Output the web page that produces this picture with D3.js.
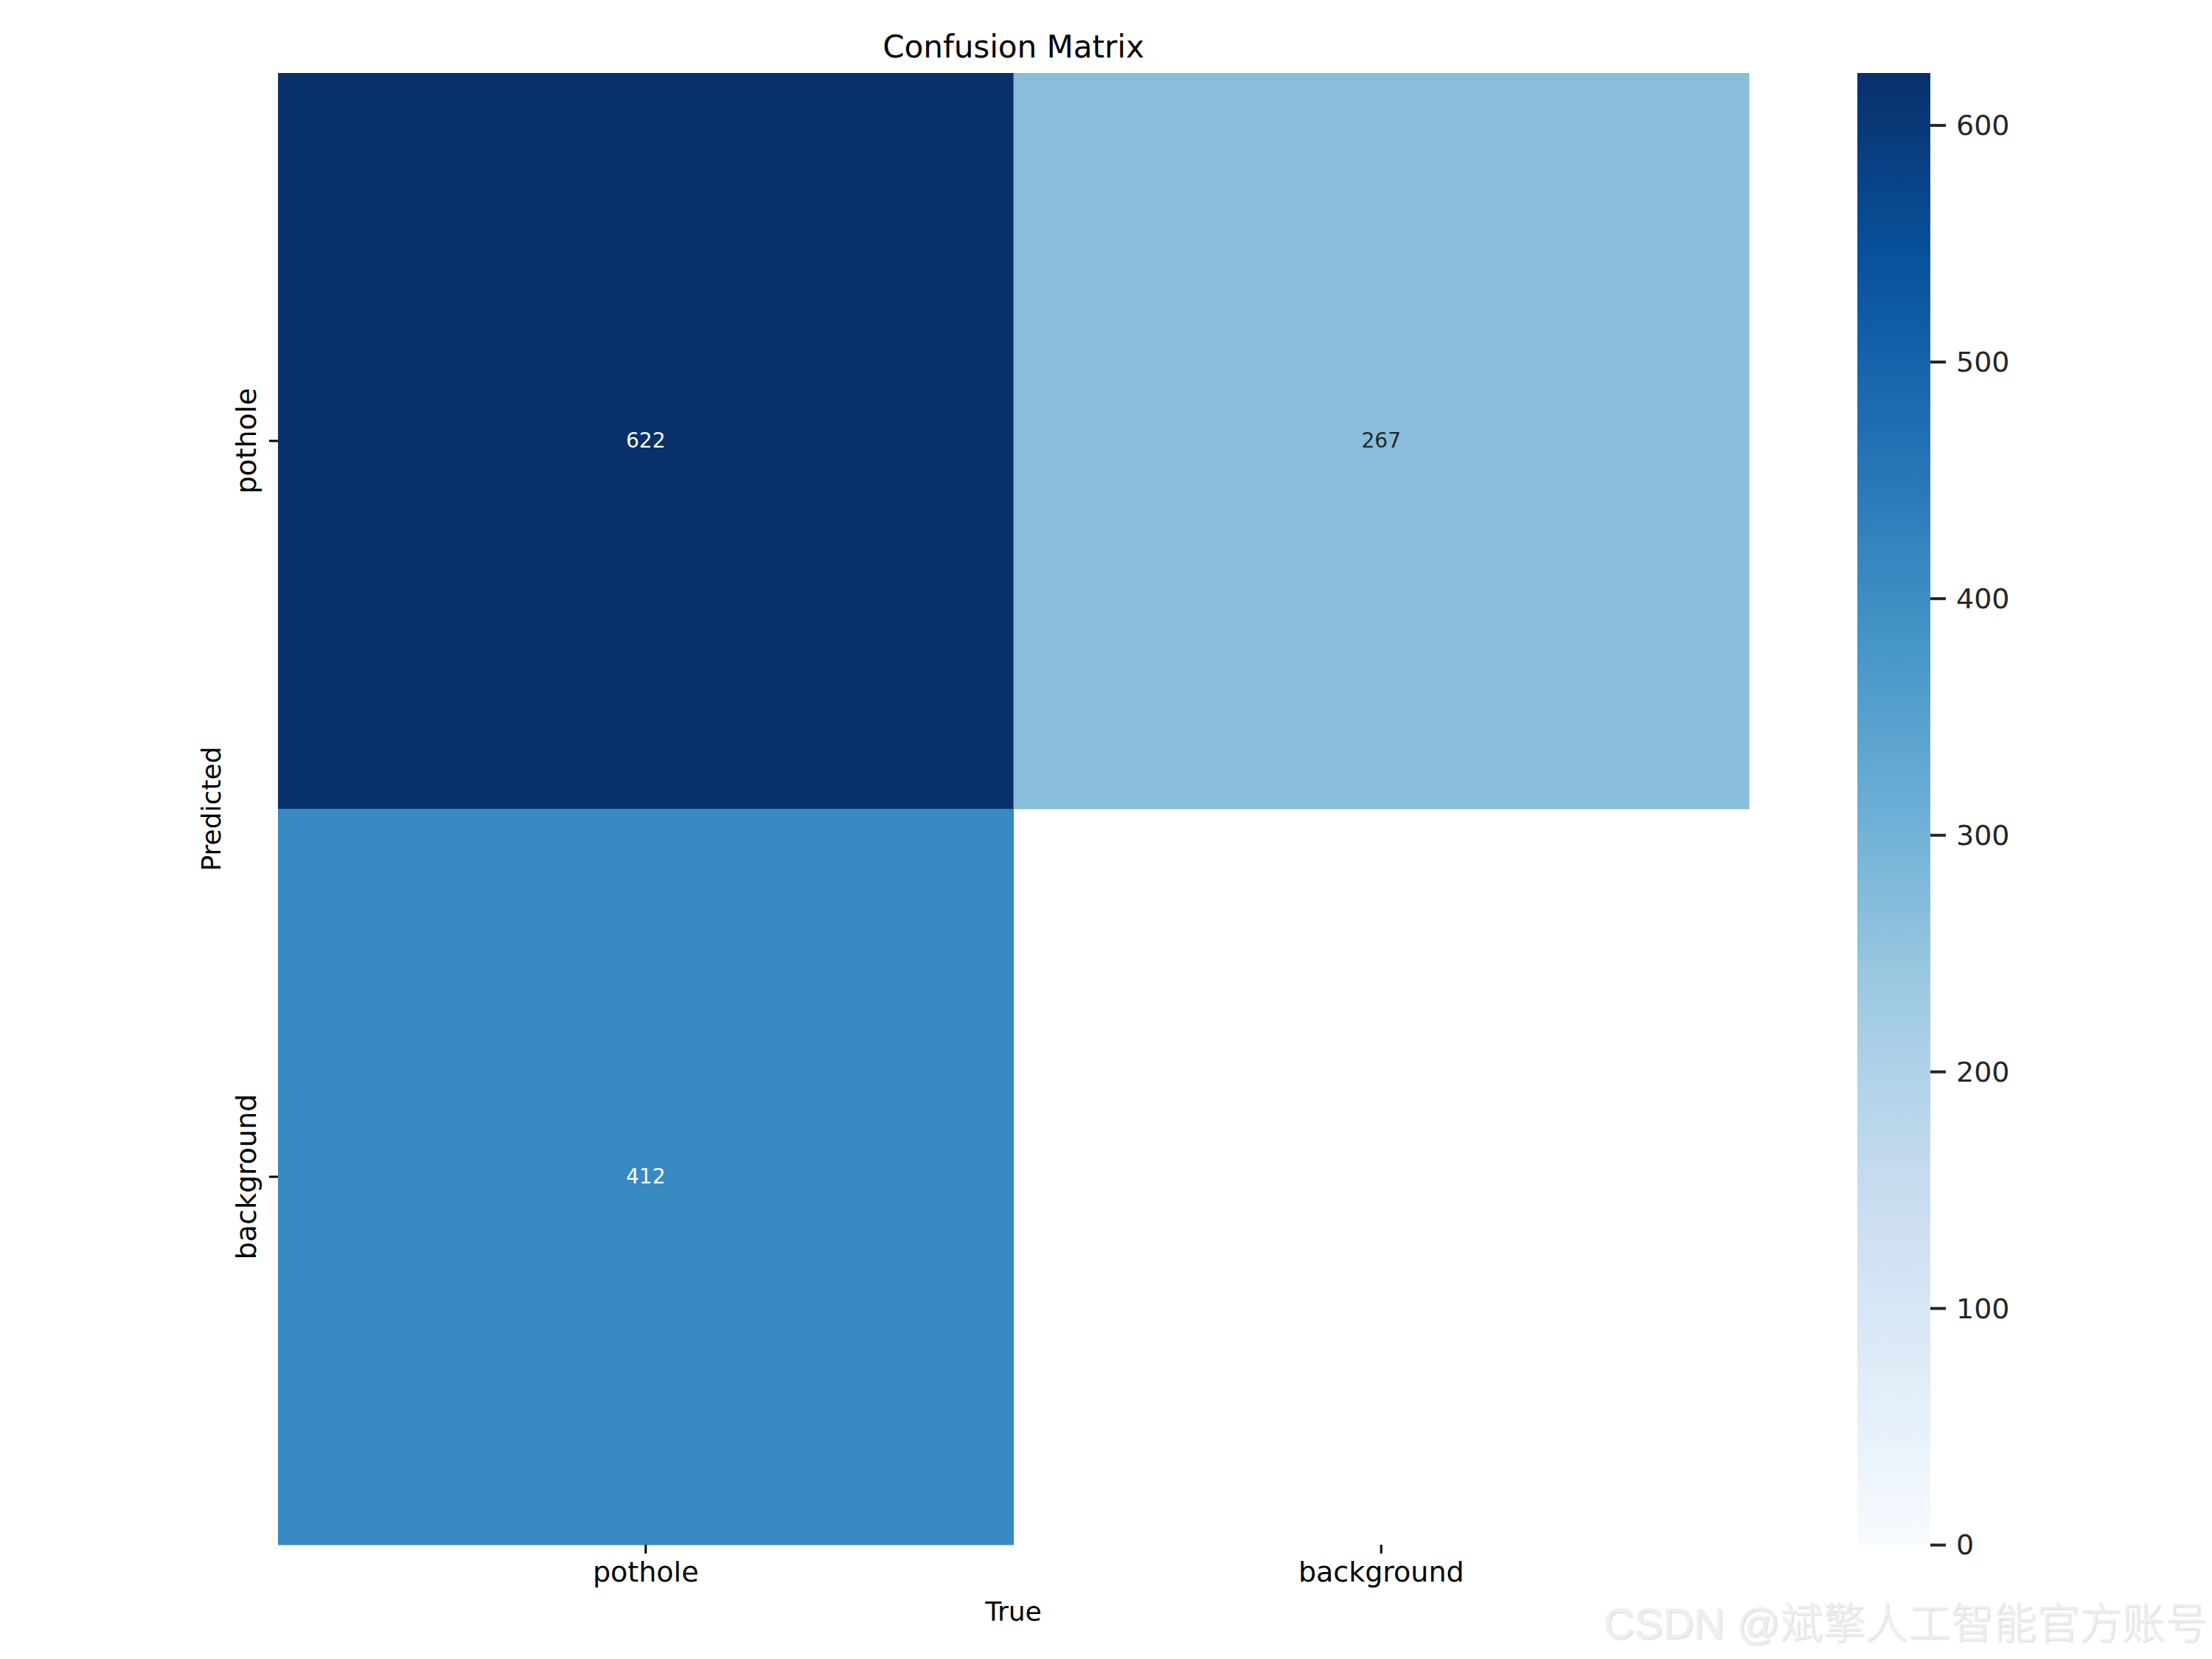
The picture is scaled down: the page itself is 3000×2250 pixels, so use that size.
<!DOCTYPE html>
<html>
<head>
<meta charset="utf-8">
<script src="https://cdn.jsdelivr.net/npm/d3@7"></script>
<style>
  html, body { margin: 0; padding: 0; background: #ffffff; }
  svg { display: block; }
</style>
</head>
<body>
<script>
// ---- data ----
const trueLabels = ["pothole", "background"];
const predLabels = ["pothole", "background"];
const rowPothole = [622, 267];
const rowBackground = [412, null];
const colorbarTicks = [0, 100, 200, 300, 400, 500, 600];
const vmax = 622;
const titleText = "Confusion Matrix";
const xLabelText = "True";
const yLabelText = "Predicted";
const watermarkText = "CSDN @斌擎人工智能官方账号";
// matplotlib "Blues" anchor colours
const bluesStops = ["#f7fbff","#deebf7","#c6dbef","#9ecae1","#6baed6","#4292c6","#2171b5","#08519c","#08306b"];

(function () {
const rows = [rowPothole, rowBackground];
const cells = [];
rows.forEach((r, i) => r.forEach((v, j) => cells.push({pred: predLabels[i], tru: trueLabels[j], v})));

const W = 3000, H = 2250;
const font = "'DejaVu Sans', sans-serif";
const svg = d3.select("body").append("svg").attr("width", W).attr("height", H)
  .style("font-family", font);

const pLeft = 377, pRight = 2372, pTop = 99, pBottom = 2095;
const x = d3.scaleBand().domain(trueLabels).range([pLeft, pRight]);
const y = d3.scaleBand().domain(predLabels).range([pTop, pBottom]);
const color = d3.scaleLinear()
  .domain(bluesStops.map((_, i) => i / (bluesStops.length - 1) * vmax))
  .range(bluesStops)
  .interpolate(d3.interpolateRgb);

// cells
svg.append("g").selectAll("rect").data(cells.filter(d => d.v !== null)).join("rect")
  .attr("x", d => x(d.tru)).attr("y", d => y(d.pred))
  .attr("width", x.bandwidth() + 0.5).attr("height", y.bandwidth() + 0.5)
  .attr("fill", d => color(d.v));

// annotations
function lum(c) {
  const rgb = d3.rgb(c);
  const f = v => { v /= 255; return v <= 0.03928 ? v / 12.92 : Math.pow((v + 0.055) / 1.055, 2.4); };
  return 0.2126 * f(rgb.r) + 0.7152 * f(rgb.g) + 0.0722 * f(rgb.b);
}
svg.append("g").selectAll("text").data(cells.filter(d => d.v !== null)).join("text")
  .attr("x", d => x(d.tru) + x.bandwidth() / 2)
  .attr("y", d => y(d.pred) + y.bandwidth() / 2 + 9)
  .attr("text-anchor", "middle")
  .attr("font-size", 28)
  .attr("fill", d => lum(color(d.v)) > 0.408 ? "#262626" : "#ffffff")
  .text(d => d.v);

// x axis
const gx = svg.append("g").attr("transform", `translate(0,${pBottom})`)
  .call(d3.axisBottom(x).tickSize(12).tickSizeOuter(0));
gx.select(".domain").remove();
gx.selectAll(".tick line").attr("stroke", "#000").attr("stroke-width", 3);
gx.selectAll(".tick text").attr("y", 50).attr("dy", 0)
  .attr("font-size", 38).attr("font-family", font).attr("fill", "#000");

// y axis
const gy = svg.append("g").attr("transform", `translate(${pLeft},0)`)
  .call(d3.axisLeft(y).tickSize(12).tickSizeOuter(0));
gy.select(".domain").remove();
gy.selectAll(".tick line").attr("stroke", "#000").attr("stroke-width", 3);
gy.selectAll(".tick text")
  .attr("x", 0).attr("y", -30).attr("dy", 0)
  .attr("transform", "rotate(-90)")
  .attr("text-anchor", "middle")
  .attr("font-size", 38).attr("font-family", font).attr("fill", "#000");

// title & axis labels
svg.append("text").attr("x", (pLeft + pRight) / 2).attr("y", 78)
  .attr("text-anchor", "middle").attr("font-size", 42).attr("fill", "#000").text(titleText);
svg.append("text").attr("x", (pLeft + pRight) / 2).attr("y", 2198)
  .attr("text-anchor", "middle").attr("font-size", 36).attr("fill", "#000").text(xLabelText);
svg.append("text").attr("transform", `translate(299,${(pTop + pBottom) / 2}) rotate(-90)`)
  .attr("text-anchor", "middle").attr("font-size", 36).attr("fill", "#000").text(yLabelText);

// colorbar
const cbL = 2519, cbR = 2618;
const cb = d3.scaleLinear().domain([0, vmax]).range([pBottom, pTop]);
const defs = svg.append("defs");
const grad = defs.append("linearGradient").attr("id", "cbgrad")
  .attr("x1", 0).attr("y1", 1).attr("x2", 0).attr("y2", 0);
d3.range(0, 1.0001, 1 / 64).forEach(t => {
  grad.append("stop").attr("offset", t).attr("stop-color", color(t * vmax));
});
svg.append("rect").attr("x", cbL).attr("y", pTop).attr("width", cbR - cbL).attr("height", pBottom - pTop)
  .attr("fill", "url(#cbgrad)");
const gc = svg.append("g").attr("transform", `translate(${cbR},0)`)
  .call(d3.axisRight(cb).tickValues(colorbarTicks).tickSize(21).tickPadding(14).tickSizeOuter(0));
gc.select(".domain").remove();
gc.selectAll(".tick line").attr("stroke", "#262626").attr("stroke-width", 4);
gc.selectAll(".tick text").attr("dy", "0.34em")
  .attr("font-size", 38).attr("font-family", font).attr("fill", "#262626");

// watermark
const flt = defs.append("filter").attr("id", "wmshadow").attr("x", "-5%").attr("y", "-20%")
  .attr("width", "110%").attr("height", "140%");
flt.append("feDropShadow").attr("dx", 1).attr("dy", 1).attr("stdDeviation", 0.8)
  .attr("flood-color", "#a8a8a8").attr("flood-opacity", 0.55);
svg.append("text").attr("x", 2994).attr("y", 2222)
  .attr("text-anchor", "end").attr("font-size", 58)
  .attr("font-family", "'Liberation Sans', 'Noto Sans CJK SC', sans-serif")
  .attr("font-weight", 300)
  .attr("fill", "#efefef").attr("filter", "url(#wmshadow)")
  .text(watermarkText);
})();
</script>
</body>
</html>
